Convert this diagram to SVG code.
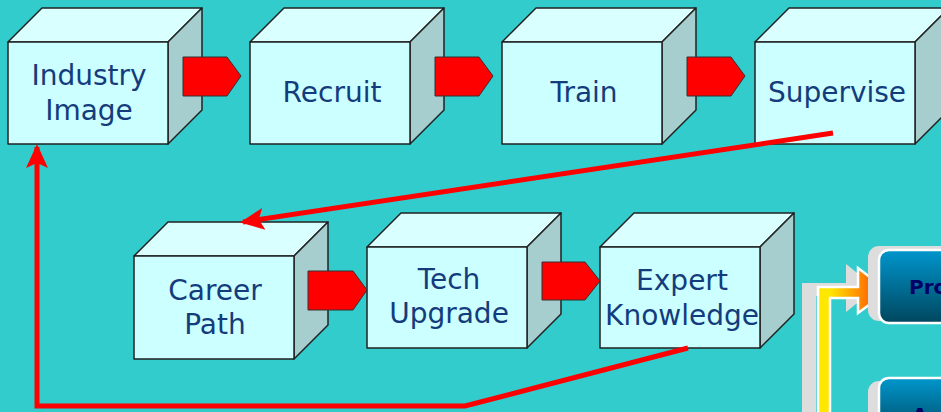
<svg xmlns="http://www.w3.org/2000/svg" width="941" height="412" viewBox="0 0 941 412">
<style>
.front{fill:#CCFFFF;stroke:#222;stroke-width:1.5;stroke-linejoin:round}
.top{fill:#D9FFFF;stroke:#222;stroke-width:1.5;stroke-linejoin:round}
.side{fill:#A6CECE;stroke:#222;stroke-width:1.5;stroke-linejoin:round}
.lbl{font-family:"DejaVu Sans",Verdana,sans-serif;font-size:28px;fill:#143C7C;text-anchor:middle}
.pent{fill:#FF0000;stroke:#333;stroke-width:1}
.red{fill:none;stroke:#FF0000;stroke-width:5;stroke-linejoin:miter}
.btn{font-family:"DejaVu Sans",Verdana,sans-serif;font-size:20px;font-weight:bold;fill:#000066}
</style>
<defs>
<marker id="ah" markerUnits="userSpaceOnUse" markerWidth="26" markerHeight="24" refX="21" refY="11" orient="auto" viewBox="0 0 26 22">
<polygon points="0,0 24,11 0,22 5,11" fill="#FF0000"/>
</marker>
<linearGradient id="blue" x1="0" y1="0" x2="0" y2="1">
<stop offset="0" stop-color="#0096CC"/>
<stop offset="1" stop-color="#00465E"/>
</linearGradient>
<linearGradient id="yo" gradientUnits="userSpaceOnUse" x1="830" y1="0" x2="888" y2="0">
<stop offset="0" stop-color="#FFE800"/>
<stop offset="1" stop-color="#FF3300"/>
</linearGradient>
</defs>
<rect width="941" height="412" fill="#33CCCC"/>

<g id="right-panel">
<polygon points="802,412 802,283 846,283 846,264 876,288 846,312 846,296 816,296 816,412" fill="#DDDDDD"/>
<polygon points="818,414 818,287 858,287 858,268 888,291 858,313 858,298 830,298 830,414" fill="url(#yo)" stroke="#FFFFFF" stroke-width="2.5"/>
<rect x="868" y="246" width="90" height="75" rx="11" fill="#DDDDDD"/>
<rect x="879" y="250" width="90" height="73" rx="10" fill="url(#blue)" stroke="#FFFFFF" stroke-width="2.5"/>
<text class="btn" x="909" y="294">Pro</text>
<rect x="868" y="381" width="90" height="60" rx="11" fill="#DDDDDD"/>
<rect x="879" y="378" width="90" height="60" rx="10" fill="url(#blue)" stroke="#FFFFFF" stroke-width="2.5"/>
<text class="btn" x="912" y="422">A</text>
</g>

<g id="industry-image">
<polygon class="top" points="8,42 42,8 202,8 168,42"/>
<polygon class="side" points="168,42 202,8 202,110 168,144"/>
<rect class="front" x="8" y="42" width="160" height="102"/>
<text class="lbl" x="89" y="85">Industry</text>
<text class="lbl" x="89" y="120">Image</text>
</g>

<g id="recruit">
<polygon class="top" points="250,42 284,8 444,8 410,42"/>
<polygon class="side" points="410,42 444,8 444,110 410,144"/>
<rect class="front" x="250" y="42" width="160" height="102"/>
<text class="lbl" x="332" y="102">Recruit</text>
</g>

<g id="train">
<polygon class="top" points="502,42 536,8 696,8 662,42"/>
<polygon class="side" points="662,42 696,8 696,110 662,144"/>
<rect class="front" x="502" y="42" width="160" height="102"/>
<text class="lbl" x="584" y="102">Train</text>
</g>

<g id="supervise">
<polygon class="top" points="755,42 789,8 949,8 915,42"/>
<polygon class="side" points="915,42 949,8 949,110 915,144"/>
<rect class="front" x="755" y="42" width="160" height="102"/>
<text class="lbl" x="837" y="102">Supervise</text>
</g>

<g id="career-path">
<polygon class="top" points="134,256 168,222 328,222 294,256"/>
<polygon class="side" points="294,256 328,222 328,325 294,359"/>
<rect class="front" x="134" y="256" width="160" height="103"/>
<text class="lbl" x="215" y="300">Career</text>
<text class="lbl" x="215" y="334">Path</text>
</g>

<g id="tech-upgrade">
<polygon class="top" points="367,247 401,213 561,213 527,247"/>
<polygon class="side" points="527,247 561,213 561,314 527,348"/>
<rect class="front" x="367" y="247" width="160" height="101"/>
<text class="lbl" x="449" y="289">Tech</text>
<text class="lbl" x="449" y="323">Upgrade</text>
</g>

<g id="expert-knowledge">
<polygon class="top" points="600,247 634,213 794,213 760,247"/>
<polygon class="side" points="760,247 794,213 794,314 760,348"/>
<rect class="front" x="600" y="247" width="160" height="101"/>
<text class="lbl" x="682" y="290">Expert</text>
<text class="lbl" x="682" y="325">Knowledge</text>
</g>

<g id="connectors">
<polygon class="pent" points="183,57 227,57 241,76 227,96 183,96"/>
<polygon class="pent" points="435,57 479,57 493,76 479,96 435,96"/>
<polygon class="pent" points="687,57 731,57 745,76 731,96 687,96"/>
<polygon class="pent" points="308,271 353,271 367,290 353,310 308,310"/>
<polygon class="pent" points="542,262 585,262 600,281 585,300 542,300"/>
<polyline class="red" points="833,133 243,222" marker-end="url(#ah)"/>
<polyline class="red" points="688,348 465,406 37,406 37,147" marker-end="url(#ah)"/>
</g>
</svg>
